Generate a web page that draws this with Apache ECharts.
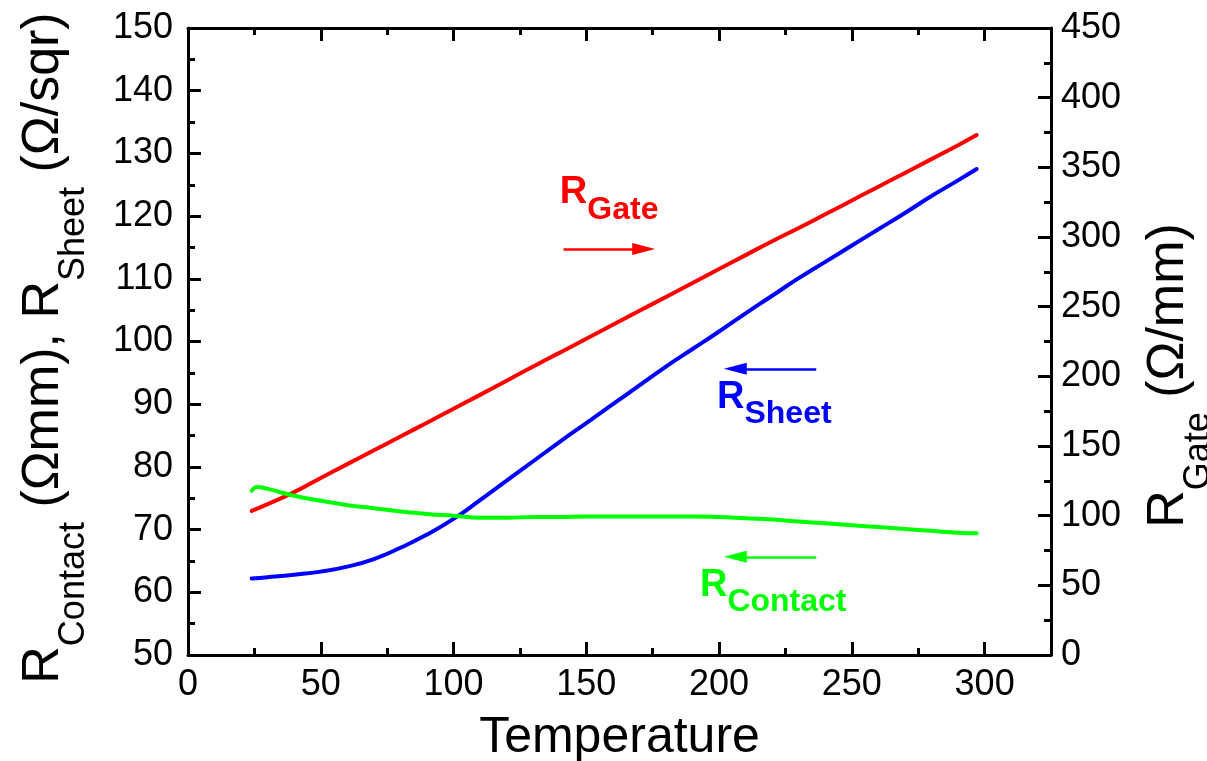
<!DOCTYPE html>
<html>
<head>
<meta charset="utf-8">
<script src="https://cdn.jsdelivr.net/npm/echarts@6/dist/echarts.min.js"></script>
<style>
  html, body { margin: 0; background: #fff; }
  #chart { width: 1207px; height: 761px; }
</style>
</head>
<body>
<div id="chart"></div>
<script>
// temperature samples shared by R_Gate and R_Sheet
const temps = [24, 30, 40, 50, 60, 70, 80, 90, 100, 110, 120, 130, 140, 150, 160,
  170, 180, 190, 200, 210, 220, 230, 240, 250, 260, 270, 280, 290, 297];
// R_Gate (Ω/mm), right axis
const gateRes = [103.4, 108.3, 116.9, 127, 137, 146.9, 156.8, 166.7, 176.7, 186.7, 196.9,
  207, 217, 227, 237, 247, 257, 267, 277, 287, 297, 306.5, 316.3, 326.2,
  336.1, 346, 355.9, 365.9, 373.2];
// R_Sheet (Ω/sqr), left axis
const sheetRes = [62.2, 62.4, 62.8, 63.3, 64.1, 65.3, 67.1, 69.2, 71.7, 74.7, 77.8, 80.9,
  84.0, 87.0, 90.0, 93.0, 96.0, 98.8, 101.6, 104.5, 107.3, 110.1, 112.7, 115.3, 117.9,
  120.5, 123.2, 125.7, 127.5];
// R_Contact (Ωmm), left axis
const contactTemps = [24, 26, 30, 40, 50, 60, 70, 80, 90, 100, 110, 120, 130, 140, 150,
  160, 170, 180, 190, 200, 210, 220, 230, 240, 250, 260, 270, 280, 290, 297];
const contactRes = [76.2, 76.8, 76.5, 75.4, 74.6, 73.9, 73.4, 72.9, 72.5, 72.2, 71.9, 71.9,
  72.0, 72.0, 72.1, 72.1, 72.1, 72.1, 72.1, 72.0, 71.8, 71.6, 71.3, 71.0, 70.7, 70.4,
  70.1, 69.8, 69.5, 69.4];

// annotation arrows: [x tail, x head, y]
const gateArrow = [141.4, 171.6, 291.3];
const sheetArrow = [236.6, 206.1, 95.65];
const contactArrow = [236.6, 206.1, 65.65];
// annotation label centers [x, y]
const gateLabelAt = [158.6, 326.6];
const sheetLabelAt = [220.8, 90.0];
const contactLabelAt = [220.4, 60.0];

const FONT = "'Liberation Sans', Arial, sans-serif";
const RED = '#ff0000', BLUE = '#0000ff', GREEN = '#00ff00';

const zip = (xs, ys) => xs.map((x, i) => [x, ys[i]]);

const axisLine = { show: true, onZero: false, lineStyle: { color: '#000', width: 3 } };
const tickStyle = { color: '#000', width: 3 };
const majorTick = { show: true, inside: true, length: 13, lineStyle: tickStyle };
const minorTick = { show: true, splitNumber: 2, length: 7, lineStyle: tickStyle };

// each side gets two overlaid axes: minor ticks every 25, major ticks every 50
function xAxisPair(position, withLabels) {
  const base = { type: 'value', min: 0, max: 325, position, splitLine: { show: false } };
  return [
    Object.assign({}, base, {
      interval: 25,
      axisLine,
      axisTick: { show: true, inside: true, length: 7, lineStyle: tickStyle },
      axisLabel: { show: false },
    }),
    Object.assign({}, base, {
      interval: 50,
      axisLine: { show: false },
      axisTick: majorTick,
      axisLabel: withLabels
        ? { show: true, showMaxLabel: false, fontSize: 36, fontFamily: FONT, color: '#000', margin: 12 }
        : { show: false },
      name: withLabels ? 'Temperature' : '',
      nameLocation: 'middle',
      nameGap: 58,
      nameTextStyle: { fontSize: 50, fontFamily: FONT, color: '#000' },
    }),
  ];
}

function arrowLine(arrow, color) {
  return {
    silent: true,
    animation: false,
    label: { show: false },
    lineStyle: { color, width: 2.5, type: 'solid' },
    data: [[
      { coord: [arrow[0], arrow[2]], symbol: 'none' },
      { coord: [arrow[1], arrow[2]], symbol: 'triangle', symbolSize: [12, 23] },
    ]],
  };
}

function labelPoint(at, sub, color) {
  return {
    silent: true,
    animation: false,
    symbol: 'circle',
    symbolSize: 1,
    itemStyle: { color: 'rgba(0,0,0,0)' },
    data: [{ coord: at }],
    label: {
      show: true,
      position: 'inside',
      formatter: '{r|R}{s|' + sub + '}',
      rich: {
        r: { fontSize: 38, fontWeight: 'bold', fontFamily: FONT, color, verticalAlign: 'top' },
        s: { fontSize: 32, fontWeight: 'bold', fontFamily: FONT, color, verticalAlign: 'top', padding: [20, 0, 0, 0] },
      },
    },
  };
}

const titleRich = {
  m: { fontSize: 52, fontFamily: FONT, color: '#000', verticalAlign: 'top' },
  s: { fontSize: 36, fontFamily: FONT, color: '#000', verticalAlign: 'top', padding: [38, 0, 0, 0] },
};

const chart = echarts.init(document.getElementById('chart'));
chart.setOption({
  animation: false,
  backgroundColor: '#fff',
  grid: { left: 188, right: 156, top: 28, bottom: 106, outerBoundsMode: 'none', containLabel: false },
  xAxis: [...xAxisPair('bottom', true), ...xAxisPair('top', false)],
  yAxis: [
    {
      type: 'value', min: 50, max: 150, interval: 10, position: 'left',
      axisLine,
      axisTick: majorTick,
      minorTick,
      splitLine: { show: false },
      axisLabel: { fontSize: 36, fontFamily: FONT, color: '#000', margin: 15 },
      name: '{m|R}{s|Contact}{m| (Ωmm), R}{s|Sheet}{m| (Ω/sqr)}',
      nameLocation: 'middle',
      nameRotate: 90,
      nameGap: 96,
      nameTextStyle: { rich: titleRich, padding: [0, 13, 0, 0] },
    },
    {
      type: 'value', min: 0, max: 450, interval: 50, position: 'right',
      axisLine,
      axisTick: majorTick,
      minorTick,
      splitLine: { show: false },
      axisLabel: { fontSize: 36, fontFamily: FONT, color: '#000', margin: 10 },
      name: '{m|R}{s|Gate}{m| (Ω/mm)}',
      nameLocation: 'middle',
      nameRotate: 90,
      nameGap: 92,
      nameTextStyle: { rich: titleRich, padding: [0, 68, 0, 0] },
    },
  ],
  series: [
    {
      name: 'R_Gate', type: 'line', xAxisIndex: 0, yAxisIndex: 1,
      data: zip(temps, gateRes), showSymbol: false, smooth: true,
      lineStyle: { color: RED, width: 4, cap: 'round' }, itemStyle: { color: RED },
      markLine: arrowLine(gateArrow, RED),
      markPoint: labelPoint(gateLabelAt, 'Gate', RED),
    },
    {
      name: 'R_Sheet', type: 'line', xAxisIndex: 0, yAxisIndex: 0,
      data: zip(temps, sheetRes), showSymbol: false, smooth: true,
      lineStyle: { color: BLUE, width: 4, cap: 'round' }, itemStyle: { color: BLUE },
      markLine: arrowLine(sheetArrow, BLUE),
      markPoint: labelPoint(sheetLabelAt, 'Sheet', BLUE),
    },
    {
      name: 'R_Contact', type: 'line', xAxisIndex: 0, yAxisIndex: 0,
      data: zip(contactTemps, contactRes), showSymbol: false, smooth: true,
      lineStyle: { color: GREEN, width: 4, cap: 'round' }, itemStyle: { color: GREEN },
      markLine: arrowLine(contactArrow, GREEN),
      markPoint: labelPoint(contactLabelAt, 'Contact', GREEN),
    },
  ],
});
</script>
</body>
</html>
